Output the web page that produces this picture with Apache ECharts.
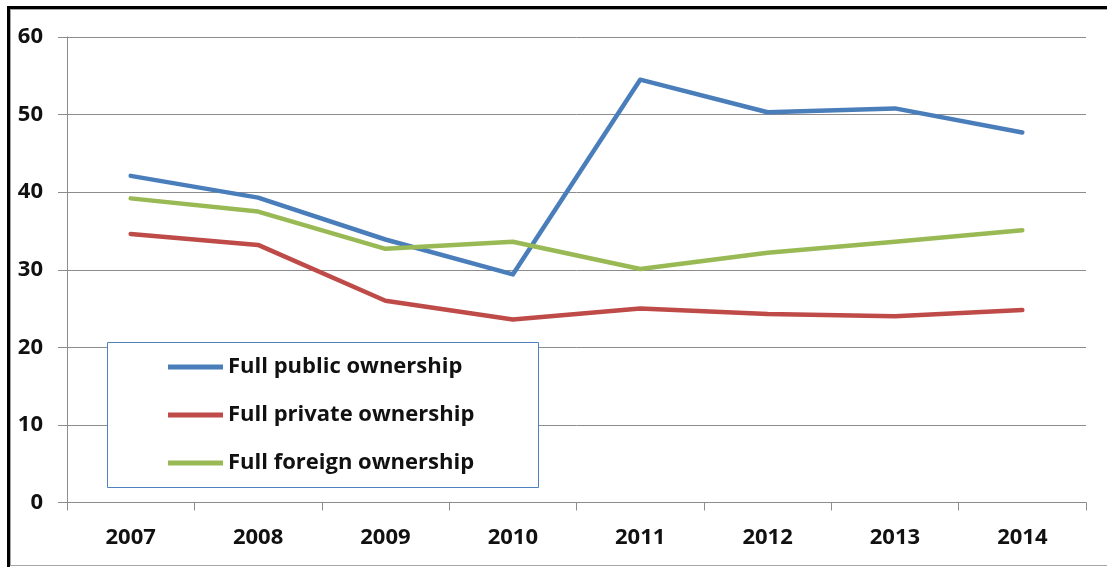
<!DOCTYPE html>
<html>
<head>
<meta charset="utf-8">
<script src="https://cdn.jsdelivr.net/npm/echarts@6/dist/echarts.min.js"></script>
<style>
  html, body { margin: 0; padding: 0; background: #fff; }
  #wrap { position: relative; width: 1107px; height: 567px; overflow: hidden; }
  #outer { position: absolute; left: 7px; top: 6px; width: 1110px; height: 570px;
           border-top: 3px solid #000; border-left: 3px solid #000; box-sizing: border-box; }
  #inner { position: absolute; left: 10px; top: 9px; width: 1110px; height: 557px;
           border-top: 1px solid #a6a6a6; border-left: 1px solid #a6a6a6; border-bottom: 1px solid #a6a6a6;
           box-sizing: border-box; }
  #chart { position: absolute; left: 0; top: 0; width: 1107px; height: 567px; }
</style>
</head>
<body>
<div id="wrap">
  <div id="outer"></div>
  <div id="inner"></div>
  <div id="chart"></div>
</div>
<script>
// Share of firms by ownership type, 2007-2014
const years = ['2007', '2008', '2009', '2010', '2011', '2012', '2013', '2014'];
const publicOwnership  = [42.1, 39.3, 33.9, 29.4, 54.5, 50.3, 50.8, 47.7];
const privateOwnership = [34.6, 33.2, 26.0, 23.6, 25.0, 24.3, 24.0, 24.8];
const foreignOwnership = [39.2, 37.5, 32.7, 33.6, 30.1, 32.2, 33.6, 35.1];
const seriesNames = ['Full public ownership', 'Full private ownership', 'Full foreign ownership'];
const yTicks = { min: 0, max: 60, interval: 10 };

const FONT = 'Open Sans';
const GRID = '#8c8c8c';
const TEXT = '#111';

const chart = echarts.init(document.getElementById('chart'), null, { renderer: 'canvas' });

function lineSeries(name, data, color) {
  return {
    name: name,
    type: 'line',
    data: data,
    symbol: 'none',
    z: 2,
    lineStyle: { color: color, width: 4.5, cap: 'round', join: 'round' },
    itemStyle: { color: color },
    emphasis: { disabled: true },
    animation: false
  };
}

chart.setOption({
  backgroundColor: 'transparent',
  animation: false,
  grid: { left: 67, right: 21, top: 37, bottom: 64.5, containLabel: false },
  xAxis: {
    type: 'category',
    data: years,
    boundaryGap: true,
    axisLine: { show: true, lineStyle: { color: GRID, width: 1 } },
    axisTick: { show: true, length: 8, alignWithLabel: false, lineStyle: { color: GRID } },
    axisLabel: { color: TEXT, fontFamily: FONT, fontWeight: 'bold', fontSize: 22, margin: 24 },
    splitLine: { show: false }
  },
  yAxis: {
    type: 'value',
    min: yTicks.min,
    max: yTicks.max,
    interval: yTicks.interval,
    axisLine: { show: true, lineStyle: { color: GRID, width: 1 } },
    axisTick: { show: true, length: 9, lineStyle: { color: GRID } },
    axisLabel: { color: TEXT, fontFamily: FONT, fontWeight: 'bold', fontSize: 22, margin: 24 },
    splitLine: { show: true, lineStyle: { color: GRID, width: 1 } }
  },
  legend: {
    orient: 'vertical',
    left: 163,
    top: 351,
    z: 20,
    icon: 'rect',
    itemWidth: 55,
    itemHeight: 5,
    itemGap: 26,
    data: seriesNames,
    selectedMode: false,
    textStyle: { color: TEXT, fontFamily: FONT, fontWeight: 'bold', fontSize: 22, lineHeight: 22 }
  },
  graphic: [{
    type: 'rect',
    left: 107, top: 342,
    shape: { width: 431, height: 145 },
    style: { fill: '#fff', stroke: '#4f81bd', lineWidth: 1 },
    z: 3
  }],
  series: [
    lineSeries(seriesNames[0], publicOwnership, '#4a7ebb'),
    lineSeries(seriesNames[1], privateOwnership, '#be4b48'),
    lineSeries(seriesNames[2], foreignOwnership, '#98b954')
  ]
});
</script>
</body>
</html>
